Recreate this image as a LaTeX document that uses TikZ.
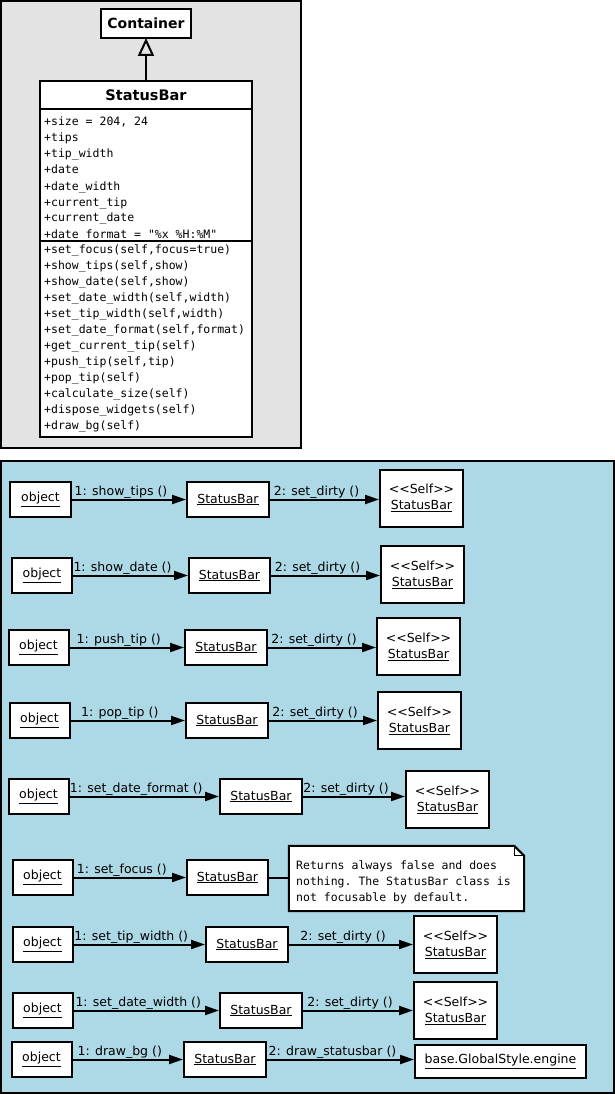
\documentclass[tikz,border=0pt]{standalone}
\usepackage{fontspec}
\setmainfont{DejaVu Sans}[Ligatures=TeXOff]
\setmonofont{DejaVu Sans Mono}
\usepackage[HTML]{xcolor}
\usetikzlibrary{positioning, arrows, arrows.meta}
\definecolor{panelgray}{HTML}{E3E3E3}
\definecolor{panelblue}{HTML}{ADD8E6}

\tikzset{
  panel/.style={draw=black, line width=2pt},
  clsbox/.style={draw, fill=white, line width=2pt, inner sep=0, outer sep=0, minimum width=212pt},
  member/.style={anchor=base west, inner sep=0, font=\ttfamily\fontsize{11.5}{16}\selectfont},
  obj/.style={draw, fill=white, line width=2pt, inner sep=0, minimum height=35pt, font=\fontsize{12.5}{16}\selectfont},
  selfobj/.style={obj, minimum width=83pt, minimum height=57pt, align=center},
  msg/.style={line width=2pt, -{Triangle[length=14pt, width=9pt]}},
  lbl/.style={anchor=base, inner sep=0, xshift=-8pt, yshift=4pt, font=\fontsize{12.5}{15}\selectfont},
  notebox/.style={inner sep=0, minimum width=235pt, minimum height=65pt},
}

\begin{document}
\begin{tikzpicture}[x=1pt, y=-1pt]
\useasboundingbox (0,0) rectangle (615,1094);
% class diagram
\draw[panel, fill=panelgray] (1,1) rectangle (301,448);
\node[clsbox, minimum width=90pt, minimum height=29pt, font=\bfseries\fontsize{14}{16}\selectfont] (container) at (146,23.5) {Container};
\node[clsbox, minimum height=28pt, font=\bfseries\fontsize{14.5}{16}\selectfont] (sbhead) at (146,95) {StatusBar};
\node[clsbox, minimum height=132pt, below=0pt of sbhead] (sbattr) {};
\node[clsbox, minimum height=196pt, below=0pt of sbattr] (sbmeth) {};
\draw[line width=2pt, -{Triangle[open, length=18pt, width=16pt]}] (sbhead) -- (container);
% attributes
\foreach \m [count=\i from 0] in {{+size = 204, 24}, +tips, +tip\_width, +date, +date\_width,
    +current\_tip, +current\_date, {+date\_format = "\%x \%H:\%M"}}
  \node[member] (attr\i) at (44,126+16*\i) {\m};
% operations
\foreach \m [count=\i from 0] in {{+set\_focus(self,focus=true)}, {+show\_tips(self,show)},
    {+show\_date(self,show)}, {+set\_date\_width(self,width)}, {+set\_tip\_width(self,width)},
    {+set\_date\_format(self,format)}, +get\_current\_tip(self), {+push\_tip(self,tip)},
    +pop\_tip(self), +calculate\_size(self), +dispose\_widgets(self), +draw\_bg(self)}
  \node[member] (op\i) at (44,253+16*\i) {\m};

% collaboration diagrams
\draw[panel, fill=panelblue] (1,461) rectangle (614,1093);

% show_tips
\node[obj, minimum width=61pt] (o1) at (40.5,499.5) {\underline{object}};
\node[obj, minimum width=82pt] (s1) at (228,499.5) {\underline{StatusBar}};
\node[selfobj] (f1) at (421.5,498) {<<Self>>\\\underline{StatusBar}};
\draw[msg] (o1) -- node[lbl] (m1a) {1: show\_tips ()} (s1);
\draw[msg] (s1) -- node[lbl] (m1b) {2: set\_dirty ()} (s1 -| f1.west);

% show_date
\node[obj, minimum width=60pt] (o2) at (42,575.5) {\underline{object}};
\node[obj, minimum width=81pt] (s2) at (229.5,575.5) {\underline{StatusBar}};
\node[selfobj] (f2) at (422.5,574.5) {<<Self>>\\\underline{StatusBar}};
\draw[msg] (o2) -- node[lbl] (m2a) {1: show\_date ()} (s2);
\draw[msg] (s2) -- node[lbl] (m2b) {2: set\_dirty ()} (s2 -| f2.west);

% push_tip
\node[obj, minimum width=60pt] (o3) at (38.5,647.5) {\underline{object}};
\node[obj, minimum width=82pt] (s3) at (226,647.5) {\underline{StatusBar}};
\node[selfobj] (f3) at (418.5,646.5) {<<Self>>\\\underline{StatusBar}};
\draw[msg] (o3) -- node[lbl] (m3a) {1: push\_tip ()} (s3);
\draw[msg] (s3) -- node[lbl] (m3b) {2: set\_dirty ()} (s3 -| f3.west);

% pop_tip
\node[obj, minimum width=60pt] (o4) at (39.5,720.5) {\underline{object}};
\node[obj, minimum width=82pt] (s4) at (227,720.5) {\underline{StatusBar}};
\node[selfobj] (f4) at (419.5,720.5) {<<Self>>\\\underline{StatusBar}};
\draw[msg] (o4) -- node[lbl] (m4a) {1: pop\_tip ()} (s4);
\draw[msg] (s4) -- node[lbl] (m4b) {2: set\_dirty ()} (s4 -| f4.west);

% set_date_format
\node[obj, minimum width=60pt] (o5) at (38.5,796.5) {\underline{object}};
\node[obj, minimum width=82pt] (s5) at (261,796.5) {\underline{StatusBar}};
\node[selfobj] (f5) at (447.5,799.5) {<<Self>>\\\underline{StatusBar}};
\draw[msg] (o5) -- node[lbl] (m5a) {1: set\_date\_format ()} (s5);
\draw[msg] (s5) -- node[lbl] (m5b) {2: set\_dirty ()} (s5 -| f5.west);

% set_focus
\node[obj, minimum width=60pt] (o6) at (42.5,877.5) {\underline{object}};
\node[obj, minimum width=81pt] (s6) at (227.5,877.5) {\underline{StatusBar}};
\node[notebox] (note) at (406.5,878.5) {};
\draw[line width=2pt, fill=white] (note.north west) -- ([xshift=-10pt]note.north east)
  -- ([yshift=-10pt]note.north east) -- (note.south east) -- (note.south west) -- cycle;
\draw[line width=1pt] ([xshift=-10pt]note.north east) |- ([yshift=-10pt]note.north east);
\node[member, anchor=north west, align=left] (notetxt) at (296,860.3)
  {Returns always false and does\\nothing. The StatusBar class is\\not focusable by default.};
\draw[msg] (o6) -- node[lbl] (m6a) {1: set\_focus ()} (s6);
\draw[line width=2pt] (s6) -- (s6 -| note.west);

% set_tip_width
\node[obj, minimum width=60pt] (o7) at (42.5,944.5) {\underline{object}};
\node[obj, minimum width=82pt] (s7) at (247,944.5) {\underline{StatusBar}};
\node[selfobj] (f7) at (455.5,944.5) {<<Self>>\\\underline{StatusBar}};
\draw[msg] (o7) -- node[lbl] (m7a) {1: set\_tip\_width ()} (s7);
\draw[msg] (s7) -- node[lbl] (m7b) {2: set\_dirty ()} (s7 -| f7.west);

% set_date_width
\node[obj, minimum width=60pt] (o8) at (42.5,1010.5) {\underline{object}};
\node[obj, minimum width=82pt] (s8) at (261,1010.5) {\underline{StatusBar}};
\node[selfobj] (f8) at (455.5,1010.5) {<<Self>>\\\underline{StatusBar}};
\draw[msg] (o8) -- node[lbl] (m8a) {1: set\_date\_width ()} (s8);
\draw[msg] (s8) -- node[lbl] (m8b) {2: set\_dirty ()} (s8 -| f8.west);

% draw_bg
\node[obj, minimum width=60pt] (o9) at (41.5,1059.5) {\underline{object}};
\node[obj, minimum width=82pt] (s9) at (225,1059.5) {\underline{StatusBar}};
\node[obj, minimum width=171pt, minimum height=33pt] (eng) at (500.5,1061.5) {\underline{base.GlobalStyle.engine}};
\draw[msg] (o9) -- node[lbl] (m9a) {1: draw\_bg ()} (s9);
\draw[msg] (s9) -- node[lbl] (m9b) {2: draw\_statusbar ()} (s9 -| eng.west);
\end{tikzpicture}
\end{document}
